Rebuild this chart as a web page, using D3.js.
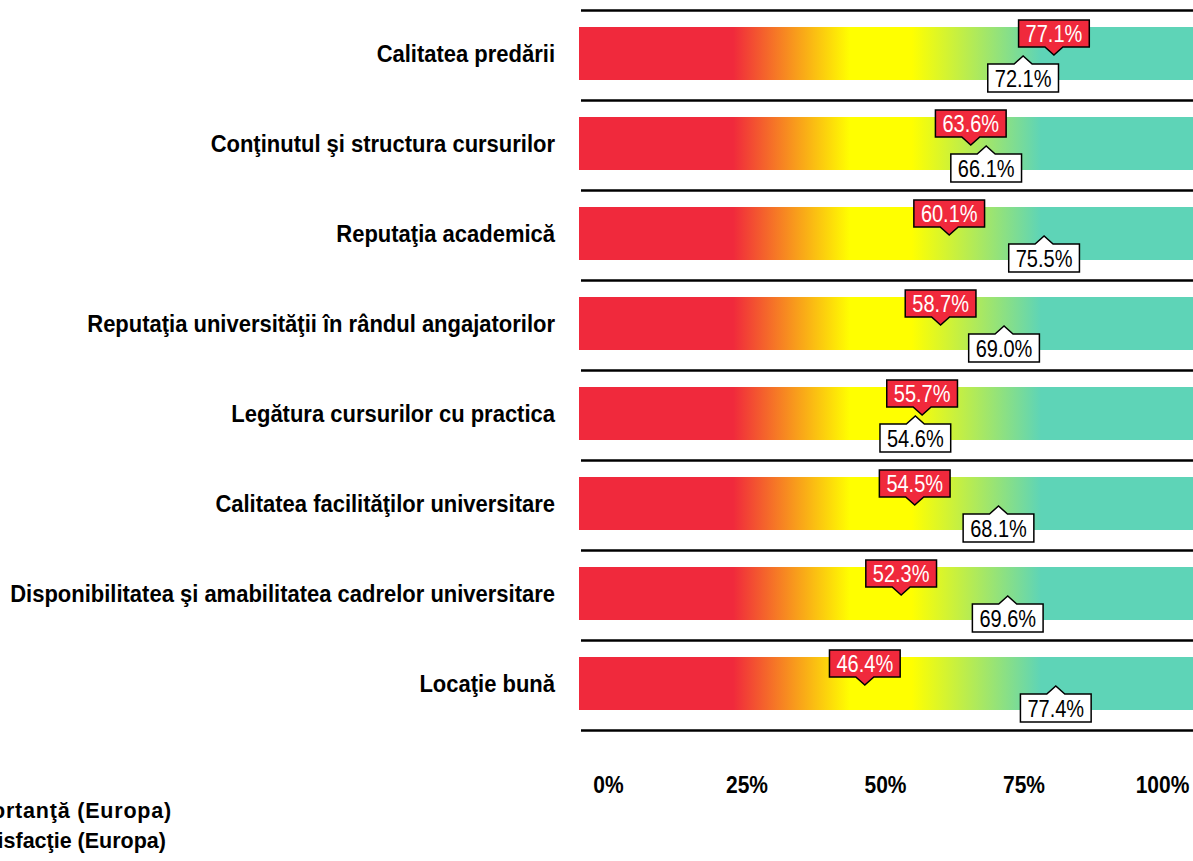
<!DOCTYPE html>
<html>
<head>
<meta charset="utf-8">
<script src="https://cdn.jsdelivr.net/npm/d3@7"></script>
<style>
  html, body { margin: 0; padding: 0; background: #fff; overflow: hidden; }
  svg { display: block; font-family: "Liberation Sans", Arial, sans-serif; }
</style>
</head>
<body>
<div id="chart"></div>
<script>
const categories = [
  'Calitatea predării',
  'Conţinutul şi structura cursurilor',
  'Reputaţia academică',
  'Reputaţia universităţii în rândul angajatorilor',
  'Legătura cursurilor cu practica',
  'Calitatea facilităţilor universitare',
  'Disponibilitatea şi amabilitatea cadrelor universitare',
  'Locaţie bună'
];
const importance = [77.1, 63.6, 60.1, 58.7, 55.7, 54.5, 52.3, 46.4];
const satisfaction = [72.1, 66.1, 75.5, 69.0, 54.6, 68.1, 69.6, 77.4];
const tickValues = [0, 25, 50, 75, 100];
const legendLabels = ['Importanţă (Europa)', 'Satisfacţie (Europa)'];

const RED = '#f0293c', YELLOW = '#ffff00', TEAL = '#5ed4b7';

const width = 1193, height = 861;

const svg = d3.select('#chart').append('svg')
  .attr('width', width)
  .attr('height', height);

const x = d3.scaleLinear([0, 100], [579, 1195]);
const y = d3.scaleBand(categories, [10, 730]);
const tickScale = d3.scaleLinear([0, 100], [608, 1162]);

// colour ramp across the whole bar
const grad = svg.append('defs').append('linearGradient')
  .attr('id', 'ramp')
  .attr('gradientUnits', 'userSpaceOnUse')
  .attr('x1', x(0)).attr('x2', x(100))
  .attr('y1', 0).attr('y2', 0);

[[0, RED], [25, RED], [44, YELLOW], [54, YELLOW], [75, TEAL], [100, TEAL]].forEach(s => {
  grad.append('stop')
    .attr('offset', s[0] + '%')
    .attr('stop-color', s[1]);
});

// separators
const lineYs = categories.map(c => y(c)).concat([y.range()[1]]);
svg.append('g')
  .selectAll('line')
  .data(lineYs)
  .join('line')
    .attr('x1', 581)
    .attr('x2', width)
    .attr('y1', d => d + 0.5)
    .attr('y2', d => d + 0.5)
    .attr('stroke', '#000')
    .attr('stroke-width', 2.4);

// bars
svg.append('g')
  .selectAll('rect')
  .data(categories)
  .join('rect')
    .attr('x', x(0))
    .attr('y', d => y(d) + 17)
    .attr('width', x(100) - x(0))
    .attr('height', 53)
    .attr('fill', 'url(#ramp)');

// category labels
svg.append('g')
  .attr('font-weight', 'bold')
  .attr('font-size', '22px')
  .attr('text-anchor', 'end')
  .selectAll('text')
  .data(categories)
  .join('text')
    .attr('transform', d => `translate(555,${y(d) + y.bandwidth() / 2 + 7}) scale(1,1.08)`)
    .attr('fill', '#000')
    .text(d => d);

// callouts
const rows = categories.map((c, i) => ({
  cat: c, imp: importance[i], sat: satisfaction[i]
}));

const callout = (g, value, cx, cy, up, fill, color) => {
  const t = g.append('text')
    .attr('text-anchor', 'middle')
    .attr('font-size', '20px')
    .attr('fill', color)
    .text(value.toFixed(1) + '%');
  const w = t.node().getComputedTextLength() + 14;
  let top, bottom, path;
  if (!up) {
    top = cy - 35; bottom = cy - 8;
    path = `M${cx - w / 2},${top}H${cx + w / 2}V${bottom}H${cx + 9}L${cx},${cy}L${cx - 9},${bottom}H${cx - w / 2}Z`;
  } else {
    top = cy + 9; bottom = cy + 37;
    path = `M${cx - w / 2},${top}H${cx - 9}L${cx},${cy + 1}L${cx + 9},${top}H${cx + w / 2}V${bottom}H${cx - w / 2}Z`;
  }
  g.insert('path', 'text')
    .attr('d', path)
    .attr('fill', fill)
    .attr('stroke', '#000')
    .attr('stroke-width', 1.5)
    .attr('stroke-linejoin', 'miter');
  t.attr('transform', `translate(${cx},${bottom - 5.5}) scale(1,1.18)`);
};

const calloutG = svg.append('g');
rows.forEach(r => {
  const cy = y(r.cat) + y.bandwidth() / 2;
  callout(calloutG.append('g'), r.imp, x(r.imp), cy, false, RED, '#fff');
  callout(calloutG.append('g'), r.sat, x(r.sat), cy, true, '#fff', '#000');
});

// axis labels
const axis = svg.append('g')
  .attr('transform', 'translate(0,793)')
  .call(d3.axisBottom(tickScale)
    .tickValues(tickValues)
    .tickSize(0)
    .tickPadding(0)
    .tickFormat(d => d + '%'));
axis.select('.domain').remove();
axis.selectAll('text')
  .attr('y', 0)
  .attr('dy', null)
  .attr('transform', 'scale(1,1.1)')
  .attr('font-family', '"Liberation Sans", Arial, sans-serif')
  .attr('font-size', '21px')
  .attr('font-weight', 'bold')
  .attr('fill', '#000');

// legend (cut by the left edge, as in the source)
svg.append('g')
  .attr('font-weight', 'bold')
  .attr('font-size', '21.5px')
  .attr('text-anchor', 'end')
  .selectAll('text')
  .data(legendLabels)
  .join('text')
    .attr('x', (d, i) => i === 0 ? 172 : 166)
    .attr('y', (d, i) => 818 + i * 30)
    .attr('letter-spacing', (d, i) => i === 0 ? '0.8px' : '0px')
    .attr('fill', '#000')
    .text(d => d);
</script>
</body>
</html>
